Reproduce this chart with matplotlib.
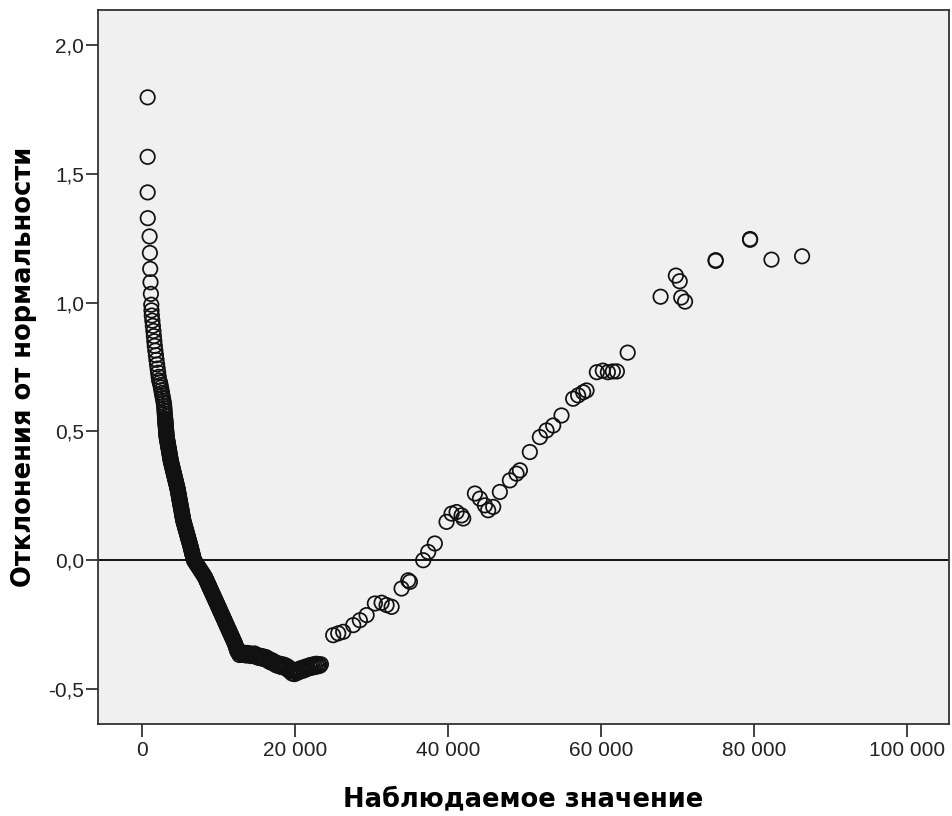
import matplotlib
matplotlib.use("Agg")
import matplotlib.pyplot as plt
from matplotlib.ticker import FuncFormatter

plt.rcParams['font.family'] = ['Liberation Sans', 'DejaVu Sans']

# top tail (smallest observed values)
tail_x = [745, 745, 745, 760, 1000, 1040, 1080, 1120, 1170, 1220, 1250, 1290, 1360,
          1430, 1500, 1560, 1620, 1680, 1750, 1830, 1900, 1980, 2050, 2120, 2190, 2250]
tail_y = [1.797, 1.566, 1.428, 1.328, 1.257, 1.193, 1.131, 1.079, 1.034, 0.992, 0.970,
          0.950, 0.930, 0.910, 0.890, 0.870, 0.850, 0.832, 0.814, 0.796, 0.778, 0.760,
          0.744, 0.728, 0.712, 0.698]

# steep descending band
steep_x = [2360, 2420, 2490, 2550, 2610, 2670, 2740, 2800, 2860, 2900, 2930, 2955,
           2980, 3010, 3035, 3050, 3060, 3075, 3090, 3100, 3115, 3130, 3145, 3155,
           3170, 3185, 3195, 3210, 3225, 3250, 3280, 3310, 3340, 3370, 3395, 3425,
           3455, 3485, 3510, 3540, 3570, 3600, 3630, 3655, 3685, 3715, 3740, 3775,
           3815, 3855, 3895, 3940, 3980, 4020, 4060, 4100, 4145, 4185, 4225, 4265,
           4310, 4350, 4390, 4430, 4470, 4515, 4555, 4595, 4640, 4670, 4700, 4730,
           4760, 4795, 4825, 4855, 4885, 4915, 4945, 4975, 5005, 5040, 5070, 5100,
           5130, 5160, 5190, 5220, 5250, 5280, 5310, 5340, 5370, 5400, 5445, 5490,
           5540, 5585, 5635, 5680, 5725, 5775, 5820, 5865, 5915, 5960, 6010, 6055,
           6100, 6150, 6195, 6240, 6290, 6335, 6380, 6420, 6465, 6505, 6550, 6590,
           6630, 6675, 6715, 6760]
steep_y = [0.690, 0.680, 0.670, 0.660, 0.650, 0.640, 0.630, 0.620, 0.610, 0.600,
           0.590, 0.580, 0.570, 0.560, 0.550, 0.545, 0.540, 0.535, 0.530, 0.525,
           0.520, 0.515, 0.510, 0.505, 0.500, 0.495, 0.490, 0.485, 0.480, 0.475,
           0.470, 0.465, 0.460, 0.455, 0.450, 0.445, 0.440, 0.435, 0.430, 0.425,
           0.420, 0.415, 0.410, 0.405, 0.400, 0.395, 0.390, 0.385, 0.380, 0.375,
           0.370, 0.365, 0.360, 0.355, 0.350, 0.345, 0.340, 0.335, 0.330, 0.325,
           0.320, 0.315, 0.310, 0.305, 0.300, 0.295, 0.290, 0.285, 0.280, 0.275,
           0.270, 0.265, 0.260, 0.255, 0.250, 0.245, 0.240, 0.235, 0.230, 0.225,
           0.220, 0.215, 0.210, 0.205, 0.200, 0.195, 0.190, 0.185, 0.180, 0.175,
           0.170, 0.165, 0.160, 0.155, 0.150, 0.145, 0.140, 0.135, 0.130, 0.125,
           0.120, 0.115, 0.110, 0.105, 0.100, 0.095, 0.090, 0.085, 0.080, 0.075,
           0.070, 0.065, 0.060, 0.055, 0.050, 0.045, 0.040, 0.035, 0.030, 0.025,
           0.020, 0.015, 0.010, 0.005]

# bend below zero
bend_x = [6800, 6910, 7020, 7130, 7240, 7350, 7460, 7570, 7680, 7790, 7900, 8010,
          8120, 8230, 8305, 8380, 8460, 8535, 8610, 8685, 8760, 8840, 8915, 8990,
          9065, 9140, 9220, 9295, 9370, 9450, 9525, 9600, 9680, 9755, 9830, 9905,
          9980, 10060, 10135, 10210, 10285, 10360, 10440, 10515, 10590, 10665, 10740,
          10815, 10890, 10965, 11040, 11115, 11190, 11270, 11345, 11420, 11495, 11570,
          11650, 11725, 11800, 11875, 11950, 12030, 12105, 12175, 12230, 12285, 12340,
          12395, 12450, 12500]
bend_y = [0.000, -0.005, -0.010, -0.015, -0.020, -0.025, -0.030, -0.035, -0.040,
          -0.045, -0.050, -0.055, -0.060, -0.065, -0.070, -0.075, -0.080, -0.085,
          -0.090, -0.095, -0.100, -0.105, -0.110, -0.115, -0.120, -0.125, -0.130,
          -0.135, -0.140, -0.145, -0.150, -0.155, -0.160, -0.165, -0.170, -0.175,
          -0.180, -0.185, -0.190, -0.195, -0.200, -0.205, -0.210, -0.215, -0.220,
          -0.225, -0.230, -0.235, -0.240, -0.245, -0.250, -0.255, -0.260, -0.265,
          -0.270, -0.275, -0.280, -0.285, -0.290, -0.295, -0.300, -0.305, -0.310,
          -0.315, -0.320, -0.325, -0.330, -0.335, -0.340, -0.345, -0.350, -0.355]

# flat bottom
bottom_x = [12600, 12750, 12900, 13050, 13200, 13350, 13500, 13650, 13800, 13950,
            14100, 14250, 14400, 14550, 14700, 14850, 15000, 15150, 15300, 15450,
            15600, 15750, 15900, 16050, 16200, 16350, 16500, 16650, 16800, 16950,
            17100, 17250, 17400, 17550, 17700, 17850, 18000, 18150, 18300, 18450,
            18600, 18750, 18900, 19050, 19200, 19350, 19500, 19650, 19800, 19950,
            20100, 20250, 20400, 20550, 20700, 20850, 21000, 21150, 21300, 21450,
            21600, 21750, 21900, 22050, 22200, 22350, 22500, 22650, 22800, 22950,
            23100, 23250, 23400]
bottom_y = [-0.358, -0.368, -0.360, -0.366, -0.358, -0.368, -0.362, -0.370, -0.360,
            -0.368, -0.362, -0.372, -0.364, -0.370, -0.362, -0.374, -0.368, -0.378,
            -0.370, -0.380, -0.372, -0.382, -0.374, -0.384, -0.376, -0.388, -0.382,
            -0.394, -0.386, -0.398, -0.390, -0.402, -0.396, -0.408, -0.400, -0.410,
            -0.402, -0.414, -0.404, -0.416, -0.406, -0.418, -0.410, -0.424, -0.416,
            -0.432, -0.424, -0.440, -0.430, -0.442, -0.428, -0.438, -0.424, -0.434,
            -0.420, -0.430, -0.418, -0.428, -0.414, -0.424, -0.412, -0.420, -0.408,
            -0.418, -0.406, -0.416, -0.404, -0.414, -0.402, -0.412, -0.404, -0.410,
            -0.404]

# rising arm (large observed values)
upper_x = [25000, 25660, 26310, 27620, 28490, 29370, 30450, 31330, 31980, 32640,
           33940, 34810, 35030, 36770, 37420, 38290, 39820, 40480, 41130, 41780,
           42000, 43530, 44180, 44830, 45260, 45920, 46790, 48100, 48970, 49410,
           50710, 52020, 52890, 53760, 54850, 56370, 57020, 57680, 58120, 59470,
           60250, 60910, 61560, 62090, 63500, 67800, 69800, 70300, 70500, 71000,
           75000, 75000, 79500, 79500, 82300, 86300]
upper_y = [-0.291, -0.284, -0.278, -0.252, -0.233, -0.213, -0.168, -0.165, -0.174,
           -0.181, -0.110, -0.078, -0.084, 0.000, 0.032, 0.065, 0.149, 0.181, 0.187,
           0.174, 0.162, 0.259, 0.239, 0.213, 0.194, 0.207, 0.265, 0.310, 0.336,
           0.349, 0.420, 0.478, 0.504, 0.523, 0.562, 0.627, 0.640, 0.652, 0.659,
           0.730, 0.736, 0.730, 0.733, 0.733, 0.806, 1.023, 1.105, 1.083, 1.020,
           1.004, 1.162, 1.165, 1.244, 1.247, 1.167, 1.180]

x_ticks = [0, 20000, 40000, 60000, 80000, 100000]
y_ticks = [-0.5, 0.0, 0.5, 1.0, 1.5, 2.0]

fig = plt.figure(figsize=(9.52, 8.16), dpi=100)
ax = fig.add_axes([0.1029, 0.1127, 0.8939, 0.875])
ax.set_facecolor("#f0f0f0")

all_x = tail_x + steep_x + bend_x + bottom_x + upper_x
all_y = tail_y + steep_y + bend_y + bottom_y + upper_y
ax.scatter(all_x, all_y, s=108, facecolors="none", edgecolors="#111111",
           linewidths=1.25, zorder=3)

ax.axhline(0, color="black", linewidth=1.3, zorder=2)

ax.set_xlim(-5750, 105500)
ax.set_ylim(-0.636, 2.136)
ax.set_xticks(x_ticks)
ax.set_yticks(y_ticks)
ax.xaxis.set_major_formatter(FuncFormatter(lambda v, p: "{:,.0f}".format(v).replace(",", " ")))
ax.yaxis.set_major_formatter(FuncFormatter(lambda v, p: "{:.1f}".format(v).replace(".", ",")))

for sp in ax.spines.values():
    sp.set_color("#333333")
    sp.set_linewidth(1.3)
ax.tick_params(direction="out", length=9, width=1.3, color="#333333",
               labelsize=15, labelcolor="#222222")
ax.tick_params(axis="x", pad=3)
ax.tick_params(axis="y", pad=1)

ax.set_xlabel("Наблюдаемое значение", fontsize=18.5, fontweight="bold",
              family="DejaVu Sans", labelpad=19)
ax.set_ylabel("Отклонения от нормальности", fontsize=18.5, fontweight="bold",
              family="DejaVu Sans", labelpad=8)

fig.savefig("out.png", dpi=100)
